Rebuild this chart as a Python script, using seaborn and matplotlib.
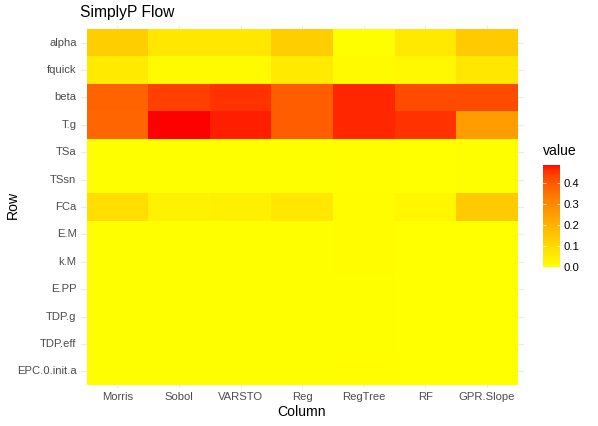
import numpy as np
import pandas as pd
import matplotlib
matplotlib.use("Agg")
import matplotlib.pyplot as plt
import seaborn as sns
from matplotlib.colors import ListedColormap

rows = ["alpha", "fquick", "beta", "T.g", "TSa", "TSsn", "FCa",
        "E.M", "k.M", "E.PP", "TDP.g", "TDP.eff", "EPC.0.init.a"]
columns = ["Morris", "Sobol", "VARSTO", "Reg", "RegTree", "RF", "GPR.Slope"]

morris   = [0.130, 0.055, 0.380, 0.375, 0.004, 0.004, 0.088, 0.003, 0.003, 0.002, 0.002, 0.002, 0.002]
sobol    = [0.065, 0.015, 0.435, 0.484, 0.003, 0.003, 0.035, 0.002, 0.002, 0.002, 0.002, 0.002, 0.002]
varsto   = [0.065, 0.015, 0.453, 0.470, 0.003, 0.003, 0.040, 0.002, 0.002, 0.002, 0.002, 0.002, 0.002]
reg      = [0.130, 0.055, 0.390, 0.390, 0.003, 0.003, 0.065, 0.002, 0.002, 0.002, 0.002, 0.002, 0.002]
regtree  = [0.005, 0.015, 0.465, 0.465, 0.007, 0.006, 0.008, 0.008, 0.008, 0.005, 0.005, 0.005, 0.007]
rf       = [0.060, 0.020, 0.420, 0.453, 0.001, 0.001, 0.025, 0.001, 0.001, 0.001, 0.001, 0.001, 0.001]
gpr      = [0.140, 0.065, 0.420, 0.255, 0.002, 0.002, 0.140, 0.001, 0.001, 0.001, 0.001, 0.001, 0.001]

df = pd.DataFrame({"Morris": morris, "Sobol": sobol, "VARSTO": varsto, "Reg": reg,
                   "RegTree": regtree, "RF": rf, "GPR.Slope": gpr}, index=rows)[columns]


# ggplot-like yellow->red gradient interpolated in CIELAB
def srgb_to_lab(c):
    c = np.asarray(c, float)
    lin = np.where(c <= 0.04045, c / 12.92, ((c + 0.055) / 1.055) ** 2.4)
    M = np.array([[0.4124, 0.3576, 0.1805], [0.2126, 0.7152, 0.0722], [0.0193, 0.1192, 0.9505]])
    xyz = M @ lin / np.array([0.95047, 1.0, 1.08883])
    f = np.where(xyz > 0.008856, np.cbrt(xyz), 7.787 * xyz + 16 / 116)
    return np.array([116 * f[1] - 16, 500 * (f[0] - f[1]), 200 * (f[1] - f[2])])


def lab_to_srgb(lab):
    L, a, b = lab
    fy = (L + 16) / 116
    fx = fy + a / 500
    fz = fy - b / 200
    f = np.array([fx, fy, fz])
    xyz = np.where(f > 0.2069, f ** 3, (f - 16 / 116) / 7.787) * np.array([0.95047, 1.0, 1.08883])[:, None]
    Minv = np.array([[3.2406, -1.5372, -0.4986], [-0.9689, 1.8758, 0.0415], [0.0557, -0.2040, 1.0570]])
    lin = np.clip(Minv @ xyz, 0, 1)
    c = np.where(lin <= 0.0031308, 12.92 * lin, 1.055 * lin ** (1 / 2.4) - 0.055)
    return np.clip(c, 0, 1).T


lo = srgb_to_lab([1, 1, 0])
hi = srgb_to_lab([1, 0, 0])
t = np.linspace(0, 1, 256)
labs = lo[:, None] * (1 - t) + hi[:, None] * t
cmap = ListedColormap(lab_to_srgb(labs))

plt.rcParams["font.family"] = ["Liberation Sans", "DejaVu Sans"]
W, H = 598, 426
fig = plt.figure(figsize=(W / 72, H / 72), dpi=72)

ax = fig.add_axes([80.5 / W, 1 - 387.7 / H, (523.9 - 80.5) / W, (387.7 - 26.3) / H])
cax = fig.add_axes([543 / W, 1 - 267 / H, 17 / W, 102 / H])

vmax = float(df.values.max())
sns.heatmap(df, cmap=cmap, vmin=0.0, vmax=vmax, ax=ax, cbar_ax=cax, linewidths=0)

ax.set_xlim(-0.1, len(columns) + 0.1)
ax.set_ylim(len(rows) + 0.1, -0.1)
ax.set_axisbelow(True)
ax.grid(True, color="#EBEBEB", linewidth=1.1)
for s in ax.spines.values():
    s.set_visible(False)
ax.tick_params(length=0, labelsize=11.2, labelcolor="#4D4D4D", pad=4)
ax.set_xticklabels(columns, rotation=0)
ax.set_yticklabels(rows, rotation=0)
ax.set_xlabel("")
ax.set_ylabel("")
fig.text(302 / W, 1 - 412 / H, "Column", fontsize=14, ha="center", va="center")
fig.text(12.5 / W, 1 - 205 / H, "Row", fontsize=14, ha="center", va="center", rotation=90)
fig.text(80.5 / W, 1 - 12 / H, "SimplyP Flow", fontsize=15.6, ha="left", va="center")

cax.set_yticks([0.0, 0.1, 0.2, 0.3, 0.4])
cax.set_yticklabels(["0.0", "0.1", "0.2", "0.3", "0.4"])
cax.tick_params(labelsize=11.2, labelcolor="#000000", length=0, pad=4)
for v in [0.1, 0.2, 0.3, 0.4]:
    cax.plot([0, 0.2], [v, v], color="white", lw=0.6, transform=cax.get_yaxis_transform())
    cax.plot([0.8, 1.0], [v, v], color="white", lw=0.6, transform=cax.get_yaxis_transform())
for s in cax.spines.values():
    s.set_visible(False)
fig.text(543 / W, 1 - 151 / H, "value", fontsize=14, ha="left", va="center")

fig.savefig("out.png", dpi=72, facecolor="white")
